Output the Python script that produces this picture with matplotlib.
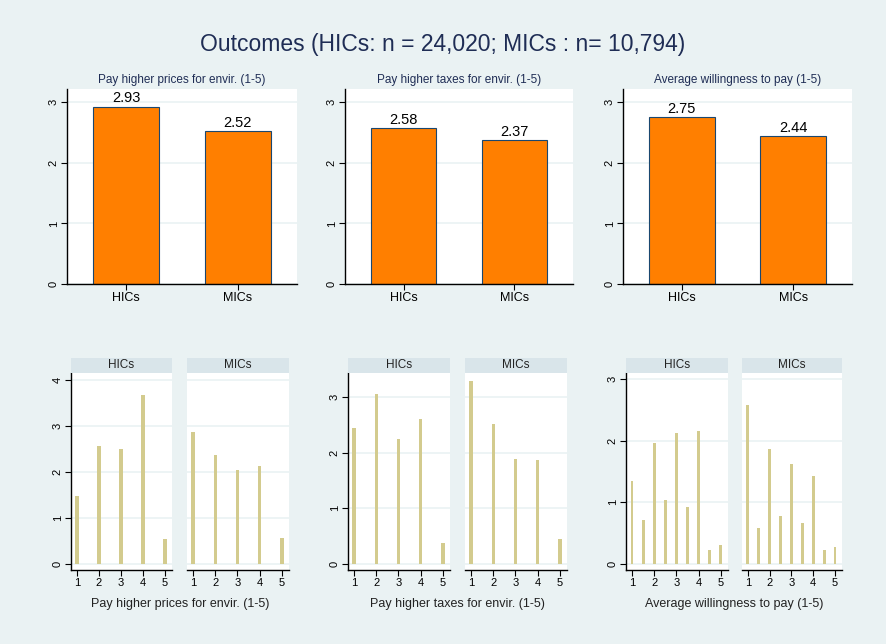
import numpy as np
import matplotlib.pyplot as plt

plt.rcParams['font.family'] = ['Liberation Sans', 'DejaVu Sans']

# top row: mean scores by income group
groups = ["HICs", "MICs"]
top_titles = ["Pay higher prices for envir. (1-5)",
              "Pay higher taxes for envir. (1-5)",
              "Average willingness to pay (1-5)"]
mean_prices = [2.93, 2.52]
mean_taxes = [2.58, 2.37]
mean_avg = [2.75, 2.44]

# bottom row: distribution (percent-like heights) per response value
x_int = [1, 2, 3, 4, 5]
x_half = [1, 1.5, 2, 2.5, 3, 3.5, 4, 4.5, 5]
prices_hic = [1.48, 2.57, 2.49, 3.68, 0.55]
prices_mic = [2.87, 2.37, 2.05, 2.14, 0.57]
taxes_hic = [2.45, 3.06, 2.25, 2.61, 0.38]
taxes_mic = [3.29, 2.51, 1.88, 1.87, 0.45]
avg_hic = [1.34, 0.71, 1.96, 1.03, 2.13, 0.93, 2.16, 0.23, 0.30]
avg_mic = [2.58, 0.58, 1.86, 0.77, 1.62, 0.67, 1.42, 0.23, 0.28]

bg = '#EAF2F3'
navy = '#1A476F'
title_col = '#1F2D55'
strip_col = '#D9E5EA'
orange = '#FF7F00'
khaki = '#D3CB8E'

W, H = 886, 644
fig = plt.figure(figsize=(W / 100, H / 100), dpi=100, facecolor=bg)


def box(x0, x1, ytop, ybot):
    return [x0 / W, 1 - ybot / H, (x1 - x0) / W, (ybot - ytop) / H]


def style(ax, yticks, left=True):
    ax.set_facecolor('white')
    for s in ['top', 'right']:
        ax.spines[s].set_visible(False)
    ax.spines['bottom'].set_linewidth(1.0)
    ax.spines['left'].set_linewidth(1.0)
    ax.spines['left'].set_visible(left)
    ax.set_yticks(yticks)
    ax.grid(axis='y', color=bg, linewidth=1.2)
    ax.set_axisbelow(True)
    ax.tick_params(axis='y', labelsize=8, rotation=90, length=4, width=0.8,
                   left=left, labelleft=left, pad=2)
    ax.tick_params(axis='x', labelsize=8, length=4, width=0.8, pad=2)
    for lab in ax.get_yticklabels():
        lab.set_va('center')


# top row
top_x = [(67, 297), (345, 573), (623, 852)]
top_vals = [mean_prices, mean_taxes, mean_avg]
for (x0, x1), vals, t in zip(top_x, top_vals, top_titles):
    ax = fig.add_axes(box(x0, x1, 89, 284))
    pos = np.arange(len(groups))
    bars = ax.bar(pos, vals, width=0.59, color=orange, edgecolor=navy, linewidth=0.8)
    for b, v in zip(bars, vals):
        ax.text(b.get_x() + b.get_width() / 2, v + 0.02, f"{v:.2f}",
                ha='center', va='bottom', fontsize=10.5, color='black')
    ax.set_xlim(-0.53, 1.53)
    ax.set_ylim(0, 3.22)
    style(ax, [0, 1, 2, 3])
    ax.set_xticks(pos)
    ax.set_xticklabels(groups, fontsize=9)
    ax.tick_params(axis='x', length=4)
    ax.set_title(t, fontsize=8.5, color=title_col, pad=4)

# bottom row
bottom = [
    ((71, 172), (187, 289), x_int, prices_hic, prices_mic, (-0.13, 4.15), [0, 1, 2, 3, 4], top_titles[0], 0.15),
    ((348, 450), (465, 567), x_int, taxes_hic, taxes_mic, (-0.11, 3.43), [0, 1, 2, 3], "Pay higher taxes for envir. (1-5)", 0.15),
    ((626, 728), (742, 842), x_half, avg_hic, avg_mic, (-0.1, 3.1), [0, 1, 2, 3], top_titles[2], 0.13),
]
for (h0, h1), (m0, m1), xs, hv, mv, ylim, yt, xl, bw in bottom:
    for (x0, x1), vals, g, left in [((h0, h1), hv, "HICs", True), ((m0, m1), mv, "MICs", False)]:
        ax = fig.add_axes(box(x0, x1, 373, 570))
        ax.bar(xs, vals, width=bw, color=khaki, edgecolor='none')
        ax.set_xlim(0.73, 5.32)
        ax.set_ylim(*ylim)
        style(ax, yt, left=left)
        ax.set_xticks(x_int)
        # strip header
        sax = fig.add_axes(box(x0, x1, 358, 373))
        sax.set_facecolor(strip_col)
        sax.set_xticks([])
        sax.set_yticks([])
        for s in sax.spines.values():
            s.set_visible(False)
        sax.text(0.5, 0.5, g, ha='center', va='center', fontsize=8.5, color='#222222',
                 transform=sax.transAxes)
    fig.text(((h0 + m1) / 2) / W, 1 - 604 / H, xl, ha='center', va='center',
             fontsize=9, color='#222222')

fig.text(0.5, 1 - 45 / H, "Outcomes (HICs: n = 24,020; MICs : n= 10,794)",
         ha='center', va='center', fontsize=16.5, color=title_col)

fig.savefig('out.png', dpi=100, facecolor=bg)
